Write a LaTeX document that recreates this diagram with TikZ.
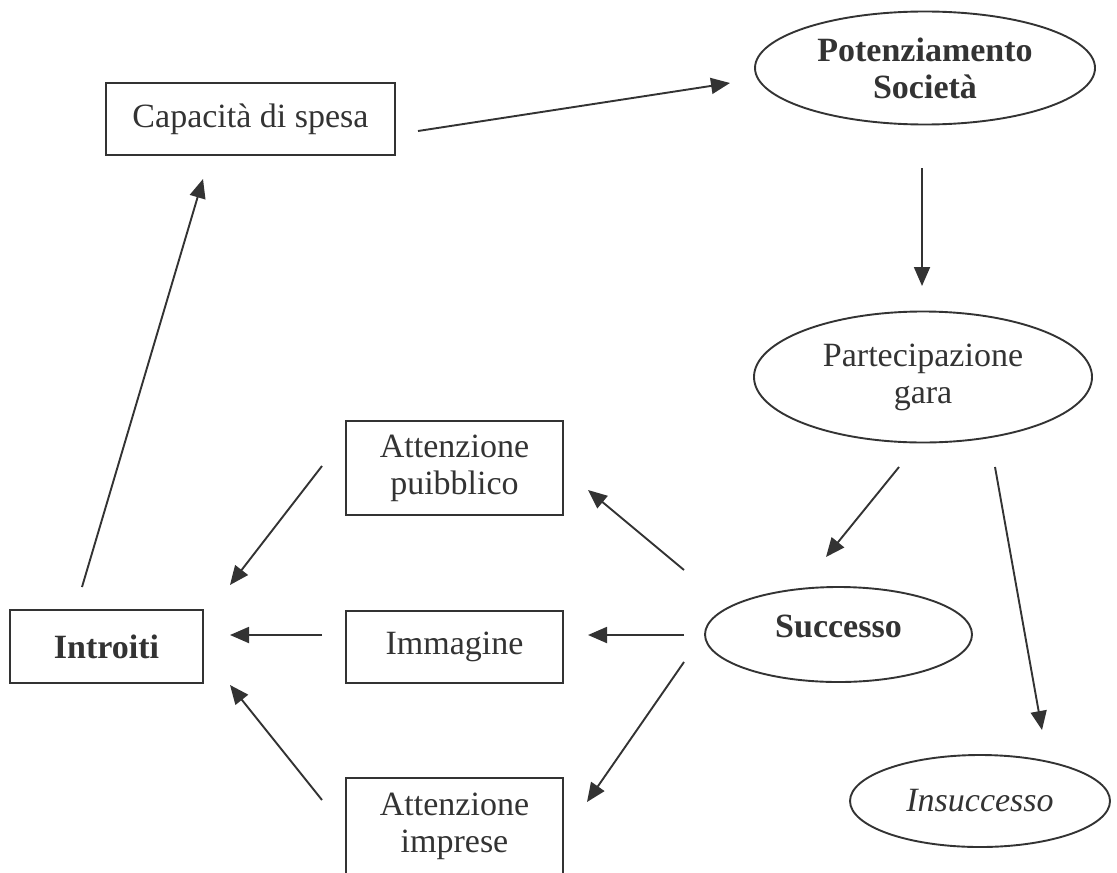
\documentclass[tikz,border=0pt]{standalone}
\usepackage{fontspec}
\setmainfont{Liberation Serif}
\usetikzlibrary{shapes.geometric,arrows.meta}
\definecolor{ink}{HTML}{333333}
\begin{document}
\begin{tikzpicture}[x=0.5pt,y=-0.5pt,
  every node/.style={text=ink, font=\fontsize{17}{18.5}\selectfont, align=center, inner sep=0pt},
  box/.style={draw=ink, line width=0.95pt, rectangle},
  oval/.style={draw=ink, line width=0.95pt, ellipse},
  link/.style={draw=ink, line width=0.95pt, -{Triangle[length=9.5pt,width=8pt]}}]
\useasboundingbox (0,0) rectangle (1117,872);

% boxes
\node[box, minimum width=144.5pt, minimum height=36pt] (cap) at (250.5,119) {Capacità di spesa};
\node[box, minimum width=108.5pt, minimum height=47pt] (pubb) at (454.5,468) {Attenzione\\puibblico};
\node[box, minimum width=108.5pt, minimum height=36pt] (imm) at (454.5,647) {Immagine};
\node[box, minimum width=108.5pt, minimum height=48pt] (impr) at (454.5,826) {Attenzione\\imprese};
\node[box, minimum width=96.5pt, minimum height=36.5pt, font=\fontsize{17}{18.5}\selectfont\bfseries] (intr) at (106.5,646.5) {Introiti};

% ellipses
\node[oval, minimum width=170pt, minimum height=56.5pt, font=\fontsize{17}{18.5}\selectfont\bfseries] (pot) at (925,68) {Potenziamento\\Società};
\node[oval, minimum width=169pt, minimum height=65.5pt] (part) at (923,377) {Partecipazione\\gara};
\node[oval, minimum width=133.5pt, minimum height=47.5pt, text depth=8pt, font=\fontsize{17}{18.5}\selectfont\bfseries] (succ) at (838.5,634.5) {Successo};
\node[oval, minimum width=130pt, minimum height=46pt, font=\fontsize{17}{18.5}\selectfont\itshape] (insu) at (980,801) {Insuccesso};

% arrow end points
\coordinate (a1s) at (418,131);  \coordinate (a1e) at (730,83);
\coordinate (a2s) at (922,168);  \coordinate (a2e) at (922,286);
\coordinate (a3s) at (899,467);  \coordinate (a3e) at (826,557);
\coordinate (a4s) at (995,467);  \coordinate (a4e) at (1042,730);
\coordinate (a5s) at (684,570);  \coordinate (a5e) at (588,490);
\coordinate (a6s) at (684,635);  \coordinate (a6e) at (588,635);
\coordinate (a7s) at (684,662);  \coordinate (a7e) at (587,802);
\coordinate (b1s) at (322,466);  \coordinate (b1e) at (230,585);
\coordinate (b2s) at (322,635);  \coordinate (b2e) at (230,635);
\coordinate (b3s) at (322,800);  \coordinate (b3e) at (230,685);
\coordinate (b4s) at (82,587);   \coordinate (b4e) at (203,179);

\draw[link] (a1s) -- (a1e);
\draw[link] (a2s) -- (a2e);
\draw[link] (a3s) -- (a3e);
\draw[link] (a4s) -- (a4e);
\draw[link] (a5s) -- (a5e);
\draw[link] (a6s) -- (a6e);
\draw[link] (a7s) -- (a7e);
\draw[link] (b1s) -- (b1e);
\draw[link] (b2s) -- (b2e);
\draw[link] (b3s) -- (b3e);
\draw[link] (b4s) -- (b4e);
\end{tikzpicture}
\end{document}
